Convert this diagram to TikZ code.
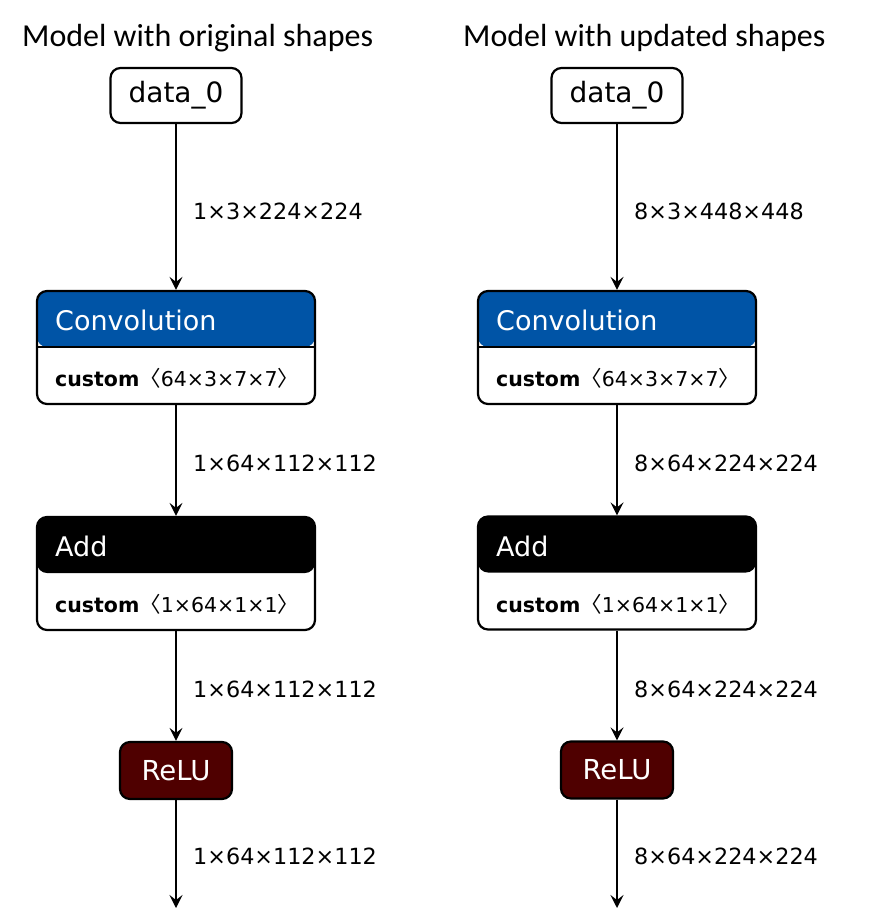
\documentclass[tikz,border=0pt]{standalone}
\usepackage{fontspec}
\setmainfont{DejaVu Sans}
\newfontfamily\titlefont{Carlito}
\newfontfamily\cjk{Noto Sans CJK SC}[Scale=1.05]
\usetikzlibrary{arrows.meta}
\definecolor{convblue}{HTML}{0054A6}
\definecolor{reludark}{HTML}{4F0000}
\newcommand{\lbr}{{\cjk 〈}}
\newcommand{\rbr}{{\cjk 〉}}
\begin{document}
\begin{tikzpicture}[x=1pt,y=-1pt,
  title/.style={font=\titlefont\fontsize{32}{36}\selectfont, anchor=west, inner sep=0pt},
  inputbox/.style={draw=black, line width=2.2pt, rounded corners=10pt, fill=white,
     minimum width=131pt, minimum height=55pt, inner sep=0pt, font=\fontsize{28}{32}\selectfont},
  opbox/.style={draw=black, line width=2.2pt, rounded corners=10pt, fill=white,
     minimum width=278pt, minimum height=113pt, inner sep=0pt},
  headtext/.style={anchor=west, text=white, inner sep=0pt, font=\fontsize{27}{30}\selectfont},
  bodytext/.style={anchor=west, inner sep=0pt, font=\fontsize{20.5}{24}\selectfont},
  relubox/.style={draw=black, line width=2.2pt, rounded corners=10pt, fill=reludark, text=white,
     minimum width=112pt, minimum height=57pt, inner sep=0pt, font=\fontsize{27.5}{30}\selectfont},
  edge/.style={line width=2.2pt, -{Stealth[length=13pt,width=13pt,inset=5pt]}},
  shape lbl/.style={anchor=west, inner sep=0pt, font=\fontsize{22.3}{26}\selectfont}
]
\useasboundingbox (0,0) rectangle (869,910);

% ---------- titles ----------
\node[title] (t1) at (22,38) {Model with original shapes};
\node[title] (t2) at (463,38) {Model with updated shapes};

% ---------- left column ----------
\node[inputbox] (inL) at (176,95.5) {data\_0};

\node[opbox, path picture={
   \fill[convblue] (path picture bounding box.north west) rectangle ([yshift=-56pt]path picture bounding box.north east);
   \draw[line width=2.2pt] ([yshift=-56pt]path picture bounding box.north west) -- ([yshift=-56pt]path picture bounding box.north east);
  }] (convL) at (176,347.5) {};
\node[headtext] (convLh) at (55,320) {Convolution};
\node[bodytext] (convLb) at (55,378) {\textbf{custom}\lbr 64×3×7×7\rbr};

\node[opbox, path picture={
   \fill[black] (path picture bounding box.north west) rectangle ([yshift=-56pt]path picture bounding box.north east);
  }] (addL) at (176,573.5) {};
\node[headtext] (addLh) at (55,546) {Add};
\node[bodytext] (addLb) at (55,604) {\textbf{custom}\lbr 1×64×1×1\rbr};

\node[relubox] (reluL) at (176,770.5) {ReLU};
\coordinate (endL) at (176,908);

\draw[edge] (inL) -- (convL.north);
\draw[edge] (convL.south) -- (addL.north);
\draw[edge] (addL.south) -- (reluL.north);
\draw[edge] (reluL.south) -- (endL);

\node[shape lbl] (l1) at (193,211) {1×3×224×224};
\node[shape lbl] (l2) at (193,463) {1×64×112×112};
\node[shape lbl] (l3) at (193,689) {1×64×112×112};
\node[shape lbl] (l4) at (193,856) {1×64×112×112};

% ---------- right column ----------
\node[inputbox] (inR) at (617,95.5) {data\_0};

\node[opbox, path picture={
   \fill[convblue] (path picture bounding box.north west) rectangle ([yshift=-56pt]path picture bounding box.north east);
   \draw[line width=2.2pt] ([yshift=-56pt]path picture bounding box.north west) -- ([yshift=-56pt]path picture bounding box.north east);
  }] (convR) at (617,347.5) {};
\node[headtext] (convRh) at (496,320) {Convolution};
\node[bodytext] (convRb) at (496,378) {\textbf{custom}\lbr 64×3×7×7\rbr};

\node[opbox, path picture={
   \fill[black] (path picture bounding box.north west) rectangle ([yshift=-56pt]path picture bounding box.north east);
  }] (addR) at (617,573) {};
\node[headtext] (addRh) at (496,546) {Add};
\node[bodytext] (addRb) at (496,604) {\textbf{custom}\lbr 1×64×1×1\rbr};

\node[relubox] (reluR) at (617,770) {ReLU};
\coordinate (endR) at (617,908);

\draw[edge] (inR) -- (convR.north);
\draw[edge] (convR.south) -- (addR.north);
\draw[edge] (addR.south) -- (reluR.north);
\draw[edge] (reluR.south) -- (endR);

\node[shape lbl] (r1) at (634,211) {8×3×448×448};
\node[shape lbl] (r2) at (634,463) {8×64×224×224};
\node[shape lbl] (r3) at (634,689) {8×64×224×224};
\node[shape lbl] (r4) at (634,856) {8×64×224×224};
\end{tikzpicture}
\end{document}
